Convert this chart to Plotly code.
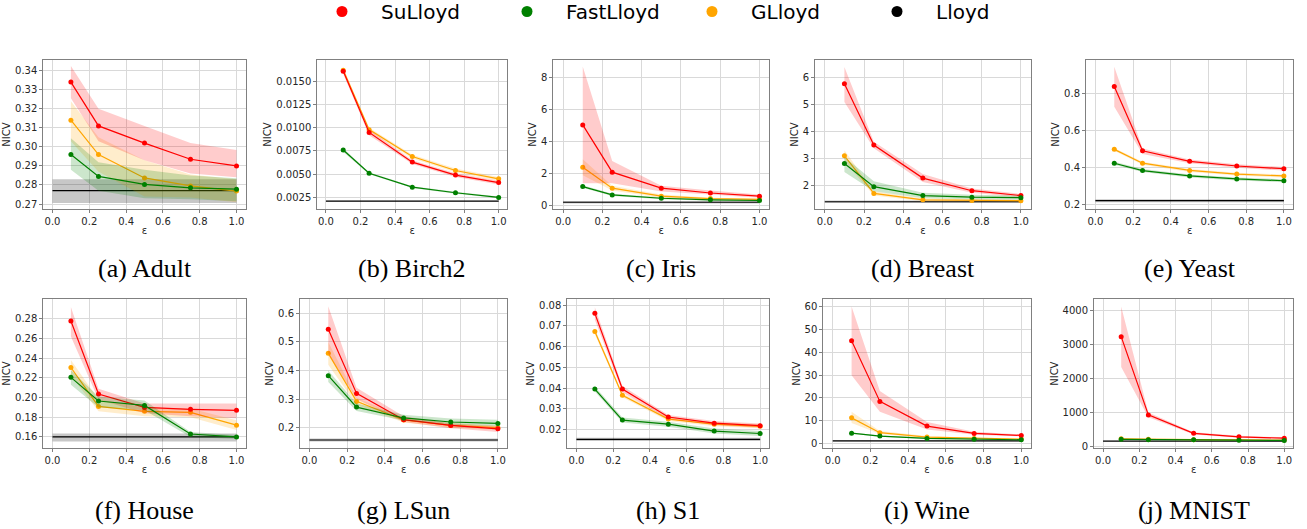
import plotly.graph_objects as go

# ---------------- data ----------------
EPS = [0.1, 0.25, 0.5, 0.75, 1.0]
LLOYD_X = [0.0, 1.0]
DATASETS = ["Adult", "Birch2", "Iris", "Breast", "Yeast",
            "House", "LSun", "S1", "Wine", "MNIST"]
CAPTIONS = ["(a) Adult", "(b) Birch2", "(c) Iris", "(d) Breast", "(e) Yeast",
            "(f) House", "(g) LSun", "(h) S1", "(i) Wine", "(j) MNIST"]
SERIES = ["SuLloyd", "FastLloyd", "GLloyd", "Lloyd"]

SU_MEAN = {
    "Adult": [0.334, 0.311, 0.302, 0.2935, 0.290],
    "Birch2": [0.0161, 0.0095, 0.0063, 0.0049, 0.0041],
    "Iris": [5.05, 2.1, 1.1, 0.8, 0.6],
    "Breast": [5.78, 3.5, 2.27, 1.8, 1.62],
    "Yeast": [0.84, 0.492, 0.435, 0.41, 0.395],
    "House": [0.2776, 0.2036, 0.19, 0.188, 0.187],
    "LSun": [0.544, 0.32, 0.228, 0.208, 0.196],
    "S1": [0.0761, 0.0395, 0.026, 0.023, 0.0218],
    "Wine": [45.1, 18.5, 7.7, 4.5, 3.6],
    "MNIST": [3220, 930, 390, 290, 250],
}
SU_LOW = {
    "Adult": [0.3255, 0.303, 0.293, 0.286, 0.284],
    "Birch2": [0.0158, 0.0092, 0.0061, 0.0047, 0.0039],
    "Iris": [1.4, 1.4, 0.9, 0.7, 0.5],
    "Breast": [5.1, 3.38, 2.12, 1.72, 1.56],
    "Yeast": [0.731, 0.475, 0.425, 0.4, 0.385],
    "House": [0.262, 0.198, 0.184, 0.181, 0.179],
    "LSun": [0.46, 0.30, 0.22, 0.198, 0.185],
    "S1": [0.073, 0.038, 0.025, 0.022, 0.0208],
    "Wine": [30.0, 14.0, 6.2, 3.9, 3.2],
    "MNIST": [2330, 860, 360, 260, 225],
}
SU_HIGH = {
    "Adult": [0.3425, 0.320, 0.311, 0.302, 0.2983],
    "Birch2": [0.0164, 0.0098, 0.0065, 0.0051, 0.0043],
    "Iris": [8.7, 2.8, 1.25, 0.95, 0.7],
    "Breast": [6.4, 3.62, 2.42, 1.88, 1.68],
    "Yeast": [0.948, 0.505, 0.445, 0.42, 0.405],
    "House": [0.292, 0.209, 0.194, 0.194, 0.194],
    "LSun": [0.625, 0.34, 0.24, 0.215, 0.205],
    "S1": [0.079, 0.041, 0.027, 0.024, 0.0228],
    "Wine": [60.0, 23.0, 9.5, 5.2, 4.0],
    "MNIST": [4100, 1000, 420, 320, 275],
}
FAST_MEAN = {
    "Adult": [0.296, 0.2845, 0.2803, 0.2785, 0.2778],
    "Birch2": [0.0076, 0.0051, 0.0036, 0.0030, 0.0025],
    "Iris": [1.2, 0.68, 0.47, 0.37, 0.33],
    "Breast": [2.81, 1.95, 1.62, 1.56, 1.54],
    "Yeast": [0.425, 0.385, 0.356, 0.34, 0.33],
    "House": [0.2205, 0.1965, 0.192, 0.163, 0.160],
    "LSun": [0.382, 0.272, 0.234, 0.220, 0.215],
    "S1": [0.0395, 0.0245, 0.0225, 0.0192, 0.018],
    "Wine": [4.6, 3.3, 2.3, 1.9, 1.7],
    "MNIST": [215, 205, 200, 190, 185],
}
FAST_LOW = {
    "Adult": [0.288, 0.277, 0.273, 0.2725, 0.2715],
    "Birch2": [0.0074, 0.0050, 0.0035, 0.0029, 0.0024],
    "Iris": [1.12, 0.61, 0.41, 0.32, 0.28],
    "Breast": [2.5, 1.78, 1.52, 1.48, 1.46],
    "Yeast": [0.417, 0.377, 0.348, 0.332, 0.322],
    "House": [0.213, 0.19, 0.187, 0.160, 0.158],
    "LSun": [0.36, 0.258, 0.225, 0.21, 0.205],
    "S1": [0.0383, 0.0233, 0.0213, 0.018, 0.0168],
    "Wine": [4.3, 3.0, 2.0, 1.6, 1.4],
    "MNIST": [200, 195, 190, 180, 175],
}
FAST_HIGH = {
    "Adult": [0.3045, 0.292, 0.288, 0.285, 0.2835],
    "Birch2": [0.0078, 0.0052, 0.0037, 0.0031, 0.0026],
    "Iris": [1.28, 0.75, 0.53, 0.42, 0.38],
    "Breast": [3.05, 2.15, 1.72, 1.65, 1.62],
    "Yeast": [0.433, 0.393, 0.364, 0.348, 0.338],
    "House": [0.228, 0.201, 0.197, 0.165, 0.162],
    "LSun": [0.40, 0.285, 0.245, 0.232, 0.228],
    "S1": [0.0407, 0.0257, 0.0237, 0.0204, 0.0192],
    "Wine": [4.9, 3.6, 2.6, 2.2, 2.0],
    "MNIST": [230, 215, 210, 200, 195],
}
G_MEAN = {
    "Adult": [0.314, 0.296, 0.2837, 0.2795, 0.2768],
    "Birch2": [0.0162, 0.0098, 0.0069, 0.0054, 0.0045],
    "Iris": [2.4, 1.1, 0.6, 0.45, 0.4],
    "Breast": [3.1, 1.7, 1.46, 1.44, 1.43],
    "Yeast": [0.50, 0.425, 0.386, 0.366, 0.356],
    "House": [0.2305, 0.191, 0.186, 0.185, 0.172],
    "LSun": [0.46, 0.292, 0.227, 0.208, 0.200],
    "S1": [0.0673, 0.0365, 0.025, 0.0225, 0.0215],
    "Wine": [11.3, 4.8, 2.9, 2.3, 2.0],
    "MNIST": [230, 215, 205, 200, 195],
}
G_LOW = {
    "Adult": [0.303, 0.287, 0.274, 0.2735, 0.271],
    "Birch2": [0.0159, 0.0096, 0.0067, 0.0052, 0.0043],
    "Iris": [1.9, 0.95, 0.5, 0.4, 0.35],
    "Breast": [2.9, 1.62, 1.41, 1.40, 1.40],
    "Yeast": [0.492, 0.417, 0.378, 0.358, 0.348],
    "House": [0.222, 0.186, 0.181, 0.180, 0.167],
    "LSun": [0.42, 0.28, 0.218, 0.2, 0.192],
    "S1": [0.066, 0.0355, 0.024, 0.0215, 0.0205],
    "Wine": [9.0, 4.2, 2.5, 2.0, 1.7],
    "MNIST": [215, 205, 195, 190, 185],
}
G_HIGH = {
    "Adult": [0.324, 0.305, 0.293, 0.2855, 0.283],
    "Birch2": [0.0165, 0.0100, 0.0071, 0.0056, 0.0047],
    "Iris": [2.9, 1.25, 0.7, 0.5, 0.45],
    "Breast": [3.3, 1.78, 1.51, 1.48, 1.46],
    "Yeast": [0.508, 0.433, 0.394, 0.374, 0.364],
    "House": [0.238, 0.198, 0.19, 0.189, 0.177],
    "LSun": [0.50, 0.305, 0.236, 0.216, 0.208],
    "S1": [0.0686, 0.0375, 0.026, 0.0235, 0.0225],
    "Wine": [14.0, 5.5, 3.3, 2.6, 2.3],
    "MNIST": [245, 225, 215, 210, 205],
}
LLOYD_MEAN = {"Adult": 0.277, "Birch2": 0.0021, "Iris": 0.22, "Breast": 1.39,
              "Yeast": 0.222, "House": 0.160, "LSun": 0.157, "S1": 0.0152,
              "Wine": 1.2, "MNIST": 166}
LLOYD_LOW = {"Adult": 0.2705, "Birch2": 0.00205, "Iris": 0.14, "Breast": 1.34,
             "Yeast": 0.214, "House": 0.1555, "LSun": 0.152, "S1": 0.0144,
             "Wine": 1.0, "MNIST": 160}
LLOYD_HIGH = {"Adult": 0.283, "Birch2": 0.00215, "Iris": 0.30, "Breast": 1.44,
              "Yeast": 0.230, "House": 0.1635, "LSun": 0.162, "S1": 0.0160,
              "Wine": 1.4, "MNIST": 172}

# ---------------- style / layout ----------------
W, H = 1307, 529
COLORS = {"SuLloyd": "#ff0000", "FastLloyd": "#008000", "GLloyd": "#ffa500", "Lloyd": "#000000"}
FILLS = {"SuLloyd": "rgba(255,0,0,0.2)", "FastLloyd": "rgba(0,128,0,0.2)",
         "GLloyd": "rgba(255,165,0,0.2)", "Lloyd": "rgba(0,0,0,0.22)"}

# pixel boxes of each axes (left, right, top, bottom)
BOXES = [
    (43.3, 245.7, 60, 209), (317.3, 507.3, 60, 209), (553.3, 769.3, 60, 209),
    (815, 1030.7, 60, 209), (1086, 1293.3, 60, 209),
    (43.3, 245.7, 299.3, 448), (300, 507.3, 299.3, 448), (567.3, 769.3, 299.3, 448),
    (823.3, 1030.7, 299.3, 448), (1094, 1293.3, 299.3, 448),
]
YRANGES = [
    [0.2674, 0.3456], [0.00125, 0.0173], [-0.2, 9.1], [1.12, 6.66], [0.177, 0.984],
    [0.1488, 0.2997], [0.129, 0.649], [0.011, 0.0829], [-1.9, 63.2], [-38, 4313],
]
YTICKS = [
    dict(dtick=0.01, tickformat=".2f"), dict(tick0=0.0025, dtick=0.0025, tickformat=".4f"),
    dict(dtick=2, tickformat="d"), dict(dtick=1, tickformat="d"),
    dict(dtick=0.2, tickformat=".1f"), dict(dtick=0.02, tickformat=".2f"),
    dict(dtick=0.1, tickformat=".1f"), dict(dtick=0.01, tickformat=".2f"),
    dict(dtick=10, tickformat="d"), dict(dtick=1000, tickformat="d"),
]

fig = go.Figure()

def band(xs, lo, hi, color, ax):
    fig.add_trace(go.Scatter(x=list(xs) + list(xs)[::-1], y=list(hi) + list(lo)[::-1],
                             fill="toself", fillcolor=color, line=dict(width=0),
                             mode="lines", hoverinfo="skip", showlegend=False,
                             xaxis="x" + ax, yaxis="y" + ax))

AXFONT = dict(family="DejaVu Sans", size=10, color="#262626")
GRID = "#d9d9d9"
SPINE = "#808080"

for i, ds in enumerate(DATASETS):
    ax = "" if i == 0 else str(i + 1)
    # Lloyd baseline
    band(LLOYD_X, [LLOYD_LOW[ds]] * 2, [LLOYD_HIGH[ds]] * 2, FILLS["Lloyd"], ax)
    fig.add_trace(go.Scatter(x=LLOYD_X, y=[LLOYD_MEAN[ds]] * 2, mode="lines",
                             line=dict(color="black", width=1.2), showlegend=False,
                             xaxis="x" + ax, yaxis="y" + ax))
    for name, m, lo, hi in [("GLloyd", G_MEAN, G_LOW, G_HIGH),
                            ("SuLloyd", SU_MEAN, SU_LOW, SU_HIGH),
                            ("FastLloyd", FAST_MEAN, FAST_LOW, FAST_HIGH)]:
        band(EPS, lo[ds], hi[ds], FILLS[name], ax)
        fig.add_trace(go.Scatter(x=EPS, y=m[ds], mode="lines+markers",
                                 line=dict(color=COLORS[name], width=1.2),
                                 marker=dict(color=COLORS[name], size=5),
                                 showlegend=False, name=name,
                                 xaxis="x" + ax, yaxis="y" + ax))
    l, r, t, b = BOXES[i]
    xd = [l / W, r / W]
    yd = [1 - b / H, 1 - t / H]
    common = dict(showline=True, mirror=True, linecolor=SPINE, linewidth=1,
                  showgrid=True, gridcolor=GRID, gridwidth=1, zeroline=False,
                  ticks="outside", ticklen=3, tickcolor=SPINE, tickfont=AXFONT)
    fig.layout["xaxis" + ax] = dict(domain=xd, range=[-0.05, 1.05], dtick=0.2, tick0=0,
                                    tickformat=".1f", anchor="y" + ax,
                                    title=dict(text="ε", font=AXFONT, standoff=0), **common)
    fig.layout["yaxis" + ax] = dict(domain=yd, range=YRANGES[i], anchor="x" + ax,
                                    title=dict(text="NICV", font=AXFONT, standoff=2),
                                    **YTICKS[i], **common)
    fig.add_annotation(text=CAPTIONS[i], xref="paper", yref="paper",
                       x=(l + r) / 2 / W, y=1 - (268 if i < 5 else 510) / H,
                       showarrow=False, xanchor="center", yanchor="middle",
                       font=dict(family="Liberation Serif", size=26, color="black"))

# legend entries (non-breaking spaces widen the gap between dot and label)
for name in SERIES:
    fig.add_trace(go.Scatter(x=[None], y=[None], mode="markers",
                             name="\u00a0\u00a0\u00a0" + name,
                             marker=dict(color=COLORS[name], size=11),
                             showlegend=True))

fig.update_layout(
    width=W, height=H, margin=dict(l=0, r=0, t=0, b=0, autoexpand=False),
    paper_bgcolor="white", plot_bgcolor="white",
    legend=dict(orientation="h", x=322 / W, xanchor="left", y=1 + 8 / H, yanchor="top",
                font=dict(family="DejaVu Sans", size=20, color="black"),
                entrywidth=140, entrywidthmode="pixels", itemsizing="trace",
                bgcolor="rgba(0,0,0,0)"),
)

fig.write_html("out.html", config={"displayModeBar": False},
               post_script="document.body.style.margin='0';")
